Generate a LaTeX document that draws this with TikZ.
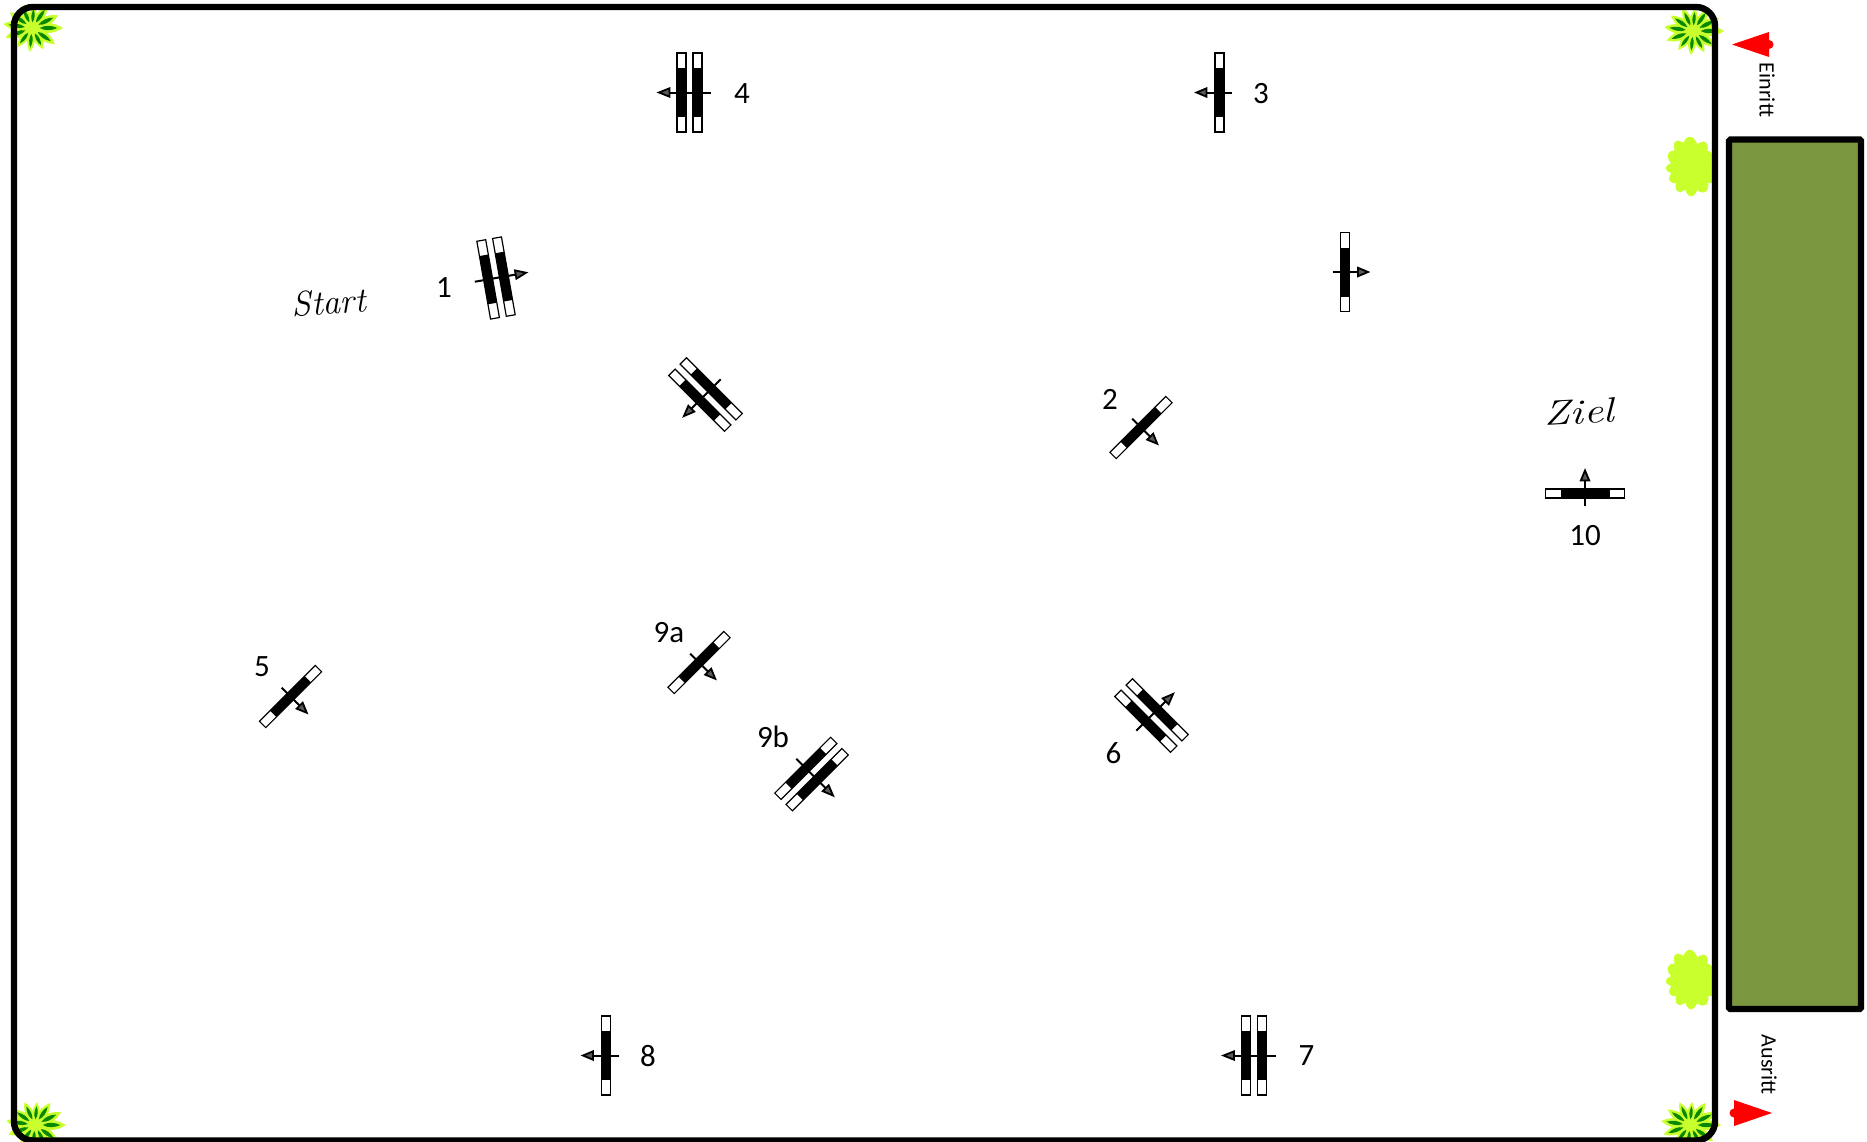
\documentclass[tikz,border=0pt]{standalone}
\usepackage{fontspec}
\setmainfont{Carlito}
\newfontfamily\handfont{Latin Modern Roman}
\definecolor{fieldgreen}{RGB}{122,150,63}
\definecolor{bushlight}{RGB}{200,255,44}
\definecolor{leafdark}{RGB}{8,135,0}
\definecolor{markred}{RGB}{255,0,0}
\newcommand{\jumpbar}[1]{%
  \filldraw[barline,fill=white] (-39.5,#1-4.5) rectangle (39.5,#1+4.5);
  \fill[black] (-24.5,#1-4.5) rectangle (24.5,#1+4.5);
}
\newcommand{\leafat}[2]{%
  \fill[bushlight,rotate=#1] (0,0) .. controls (.3*#2,.24*#2) and (.7*#2,.2*#2) .. (#2,0)
     .. controls (.7*#2,-.2*#2) and (.3*#2,-.24*#2) .. (0,0);
}
\newcommand{\darkat}[2]{%
  \fill[leafdark,rotate=#1] (.25*#2,0) .. controls (.42*#2,.1*#2) and (.62*#2,.09*#2) .. (.82*#2,0)
     .. controls (.62*#2,-.09*#2) and (.42*#2,-.1*#2) .. (.25*#2,0);
}
\newcommand{\lobeat}[3]{%
  \fill[bushlight,rotate=#1] (#2*.55,0) ellipse [x radius=#2*.5, y radius=#3];
}
\tikzset{
  barline/.style={draw=black,line width=1.2pt},
  arrowline/.style={draw=black,line width=2pt},
  arrowhead/.style={draw=black,fill=black!65,line width=1.8pt,line join=miter},
  frameline/.style={draw=black,line width=6.4pt},
  number/.style={font=\fontsize{31}{31}\selectfont,inner sep=0pt},
  gatelabel/.style={font=\fontsize{22}{22}\selectfont,inner sep=0pt,rotate=-90},
  handtext/.style={font=\handfont\itshape\fontsize{35}{35}\selectfont,inner sep=0pt},
  singlejump/.pic={
    \draw[arrowline] (-12.5,0) -- (14,0);
    \filldraw[arrowhead] (23,0) -- (13,-4.2) -- (13,4.2) -- cycle;
    \begin{scope}[rotate=90]\jumpbar{0}\end{scope}
  },
  doublejump/.pic={
    \draw[arrowline] (-21.5,0) -- (21,0);
    \filldraw[arrowhead] (30.5,0) -- (20,-4.2) -- (20,4.2) -- cycle;
    \begin{scope}[rotate=90]\jumpbar{-8}\jumpbar{8}\end{scope}
  },
  spikyplant/.pic={
    \foreach \a/\l in {0/31,26/29,55/27,85/23,115/25,145/27,172/29,200/28,232/24,265/24,298/24,325/28}{\leafat{\a}{\l}}
    \foreach \a/\l in {0/31,26/29,55/27,85/23,115/25,145/27,172/29,200/28,232/24,265/24,298/24,325/28}{\darkat{\a}{\l}}
  },
  lightbush/.pic={
    \fill[bushlight] (0,0) circle [radius=17];
    \foreach \a/\l/\w in {0/23/7,35/23/8,62/27/7,95/29/8,122/29/7,150/26/8,183/25/6,212/25/7,240/27/7,268/28/7,298/27/8,328/25/7}{\lobeat{\a}{\l}{\w}}
  }
}
\begin{document}
\begin{tikzpicture}[x=1pt,y=-1pt]
\useasboundingbox[fill=white] (0,0) rectangle (1867,1141);

% plants (behind the frame)
\pic (plantA) at (32,28) {spikyplant};
\pic (plantB) at (1693,31) {spikyplant};
\pic (plantC) at (35,1125) {spikyplant};
\pic (plantD) at (1690,1125) {spikyplant};
\pic (bushA) at (1692,167) {lightbush};
\pic (bushB) at (1692,980) {lightbush};

% arena and field
\draw[frameline,rounded corners=19pt] (14,7) rectangle (1715,1140.5);
\draw[frameline,fill=fieldgreen,rounded corners=1.5pt] (1729,139.5) rectangle (1861,1009);

% gate markers
\fill[markred] (1732,44.5) -- (1769,32) -- (1769,40) arc [start angle=-90,end angle=90,radius=4.5] -- (1769,57) -- cycle;
\fill[markred] (1772,1113) -- (1734,1100) -- (1734,1108.5) arc [start angle=-90,end angle=-270,radius=4.5] -- (1734,1126) -- cycle;
\node[gatelabel] (einritt) at (1767,90) {Einritt};
\node[gatelabel] (ausritt) at (1769,1064.5) {Ausritt};

% jumps
\pic[rotate=10] (j1) at (496,278) {doublejump};
\pic[rotate=180] (j4) at (689.5,92.5) {doublejump};
\pic[rotate=180] (j3) at (1219.5,92.5) {singlejump};
\pic[rotate=0] (jx) at (1345,272) {singlejump};
\pic[rotate=225] (jy) at (705.5,394.5) {doublejump};
\pic[rotate=-45] (j2) at (1141,427.5) {singlejump};
\pic[rotate=90] (j10) at (1585,493.5) {singlejump};
\pic[rotate=-45] (j5) at (290.5,696.5) {singlejump};
\pic[rotate=-45] (j9a) at (699,662.5) {singlejump};
\pic[rotate=-45] (j9b) at (811.5,774) {doublejump};
\pic[rotate=45] (j6) at (1151.5,715.5) {doublejump};
\pic[rotate=180] (j7) at (1254,1055.5) {doublejump};
\pic[rotate=180] (j8) at (606,1055.5) {singlejump};

% numbers
\node[number] (n1) at (444,288) {1};
\node[number] (n2) at (1110,399.5) {2};
\node[number] (n3) at (1261,94) {3};
\node[number] (n4) at (742,94) {4};
\node[number] (n5) at (262,666.5) {5};
\node[number] (n6) at (1113.5,753) {6};
\node[number] (n7) at (1306.5,1056) {7};
\node[number] (n8) at (648,1056) {8};
\node[number] (n9a) at (669,632.5) {9a};
\node[number] (n9b) at (773,736.5) {9b};
\node[number] (n10) at (1585,536) {10};

% handwriting
\node[handtext,rotate=4] (start) at (329,302) {Start};
\node[handtext,rotate=3,xscale=1.25] (ziel) at (1579,412) {Ziel};
\end{tikzpicture}
\end{document}
